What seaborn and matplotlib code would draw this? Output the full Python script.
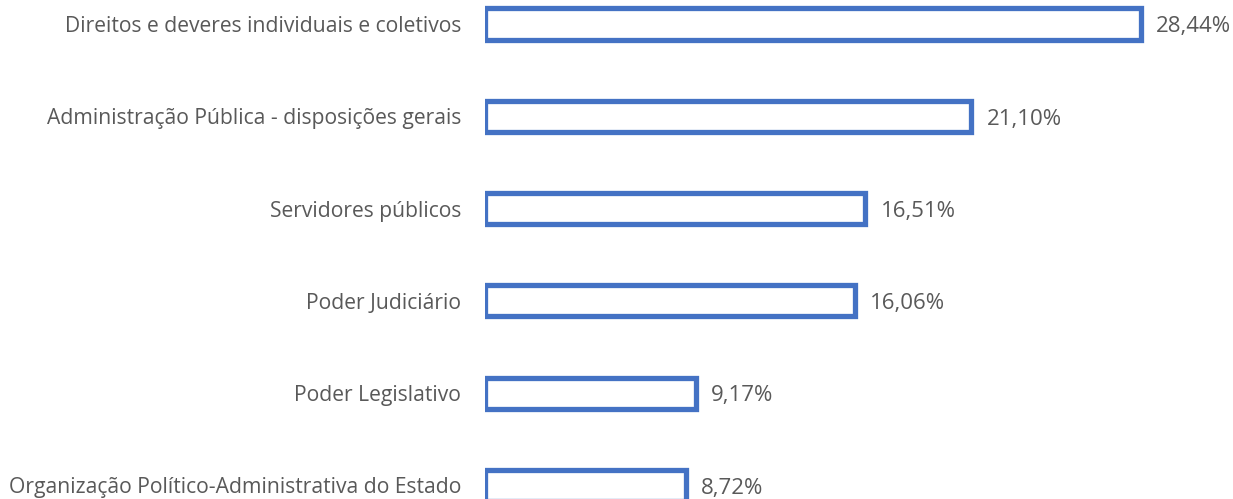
import matplotlib
matplotlib.use("Agg")
import matplotlib.pyplot as plt
import seaborn as sns
import pandas as pd

categories = [
    "Direitos e deveres individuais e coletivos",
    "Administração Pública - disposições gerais",
    "Servidores públicos",
    "Poder Judiciário",
    "Poder Legislativo",
    "Organização Político-Administrativa do Estado",
]
values = [28.44, 21.10, 16.51, 16.06, 9.17, 8.72]
value_labels = ["28,44%", "21,10%", "16,51%", "16,06%", "9,17%", "8,72%"]

df = pd.DataFrame({"cat": categories, "val": values})

sns.set_theme(style="white")
plt.rcParams["font.family"] = ["Open Sans", "DejaVu Sans"]

W, H = 1233, 499
left_px = 484.5
px_per_unit = 23.07
spacing = 92.3

fig = plt.figure(figsize=(W / 100, H / 100), dpi=100)
ax = fig.add_axes([left_px / W, 0, (W - left_px) / W, 1])

sns.barplot(data=df, x="val", y="cat", orient="h", ax=ax,
            color="white", edgecolor="#4472C4", linewidth=3.8,
            width=0.336, saturation=1)

ax.set_xlim(0, (W - left_px) / px_per_unit)
ax.set_ylim(5 + 13.5 / spacing, -24 / spacing)
for s in ax.spines.values():
    s.set_visible(False)
ax.set_xticks([])
ax.set_xlabel("")
ax.set_ylabel("")
ax.tick_params(axis="y", length=0, pad=17, labelsize=15.2, labelcolor="#595959")

for i, (v, lab) in enumerate(zip(values, value_labels)):
    ax.annotate(lab, xy=(v, i), xytext=(11, -2), textcoords="offset points",
                ha="left", va="center", fontsize=16, color="#595959")

fig.savefig("out.png", dpi=100)
